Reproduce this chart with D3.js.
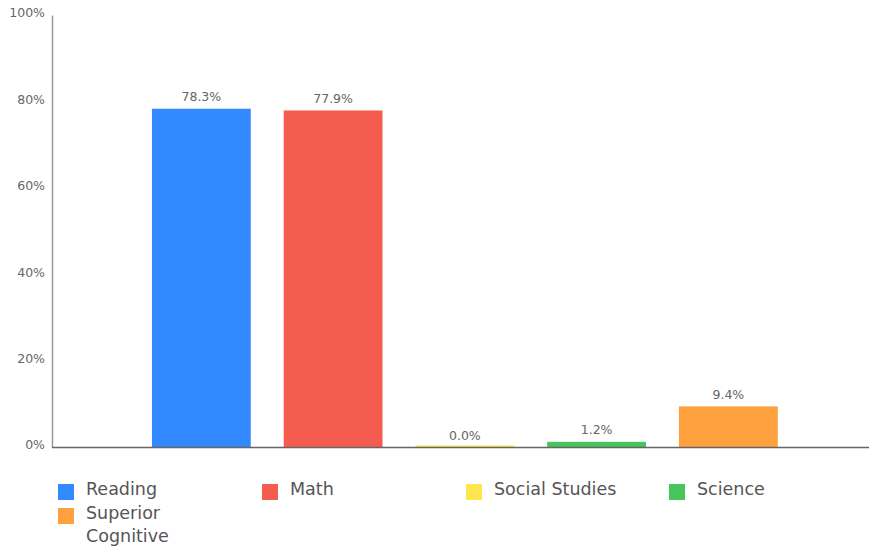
<!DOCTYPE html>
<html><head><meta charset="utf-8">
<script src="https://cdn.jsdelivr.net/npm/d3@7"></script>
<style>body{margin:0;background:#fff}svg{display:block}text{font-family:"DejaVu Sans",sans-serif}</style>
</head><body>
<script>
const categories = ["Reading","Math","Social Studies","Science","Superior Cognitive"];
const values = [78.3, 77.9, 0.0, 1.2, 9.4];
const colors = ["#3389FF","#F45C50","#FFE552","#45C55B","#FFA03E"];
const yTicks = [0,20,40,60,80,100];

const W=869,H=553;
const svg=d3.select("body").append("svg").attr("width",W).attr("height",H);
const x0=52, yTop=15, yBot=447;
const y=d3.scaleLinear().domain([0,100]).range([yBot,yTop]);
const x=d3.scaleBand().domain(categories).range([119,810.7]).paddingInner(0.25).paddingOuter(0.25);

// y axis
const gy=svg.append("g").attr("transform",`translate(${x0},0)`)
  .call(d3.axisLeft(y).tickValues(yTicks).tickFormat(d=>d+"%").tickSize(0).tickPadding(7));
gy.select(".domain").attr("stroke","#999").attr("stroke-width",1.5);
gy.selectAll("text").attr("fill","#666").style("font-size","12.5px").attr("dy","0.15em");

// bars
svg.selectAll("rect.bar").data(values).join("rect").attr("class","bar")
  .attr("x",(d,i)=>x(categories[i])).attr("width",x.bandwidth())
  .attr("y",d=>Math.min(y(d),yBot-1.5)).attr("height",d=>Math.max(yBot-y(d),1.5))
  .attr("fill",(d,i)=>colors[i]);

// x axis
svg.append("line").attr("x1",x0).attr("x2",W).attr("y1",yBot+0.5).attr("y2",yBot+0.5)
  .attr("stroke","#666").attr("stroke-width",1.5);

// value labels
svg.selectAll("text.val").data(values).join("text").attr("class","val")
  .attr("x",(d,i)=>x(categories[i])+x.bandwidth()/2).attr("y",d=>y(d)-7.5)
  .attr("text-anchor","middle").attr("fill","#666").style("font-size","12.5px")
  .text(d=>d.toFixed(1)+"%");

// legend
const legendItems=[
 {name:["Reading"],c:colors[0],x:58,y:484},
 {name:["Math"],c:colors[1],x:262,y:484},
 {name:["Social Studies"],c:colors[2],x:466,y:484},
 {name:["Science"],c:colors[3],x:669,y:484},
 {name:["Superior","Cognitive"],c:colors[4],x:58,y:508}
];
const lg=svg.append("g").selectAll("g").data(legendItems).join("g");
lg.append("rect").attr("x",d=>d.x).attr("y",d=>d.y).attr("width",16).attr("height",16).attr("fill",d=>d.c);
lg.each(function(d){
  const t=d3.select(this).append("text").attr("fill","#555").style("font-size","17.5px");
  d.name.forEach((s,i)=>t.append("tspan").attr("x",d.x+28).attr("y",d.y+10.5+i*23).text(s));
});
</script>
</body></html>
